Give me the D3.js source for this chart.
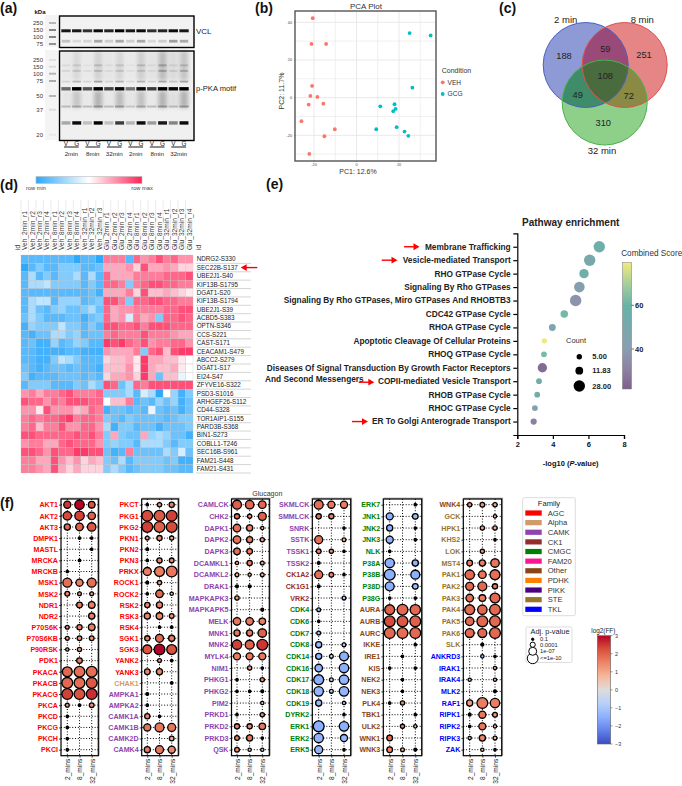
<!DOCTYPE html>
<html>
<head>
<meta charset="utf-8">
<script src="https://cdn.jsdelivr.net/npm/d3@7"></script>
<style>
  html, body { margin: 0; padding: 0; background: #fff; }
  svg { display: block; }
  text { font-family: "Liberation Sans", Arial, sans-serif; fill: #111; }
</style>
</head>
<body>
<div id="chart"></div>
<script>
// ---- panel a: western blots, band strength per lane (0-1)
var laneIds = ["v1","g1","v2","g2","v3","g3","v4","g4","v5","g5","v6","g6"];
var laneLetters = ["V","G","V","G","V","G","V","G","V","G","V","G"];
var timeLabels = ["2min","8min","32min","2min","8min","32min"];
var vclMarkers = [250,150,100,75];
var pkaMarkers = [250,150,100,75,50,37,20];
var vclMain = [.9,.9,.8,.95,.85,1,.9,.95,.8,.85,.95,.9];
var vclFaint = [.2,.1,.12,.3,.15,.3,.15,.3,.1,.15,.35,.3];
var pka62 = [.55,1,.65,1,.7,.95,.5,.95,.75,1,.95,1];
var pka28 = [.3,.95,.2,1,.2,.75,.25,.95,.35,.9,.45,.95];
var pka40 = [.2,.25,.2,.3,.2,.3,.15,.25,.2,.3,.2,.3];
var pka74 = [.1,.22,.1,.3,.1,.22,.08,.22,.1,.25,.15,.28];
var pka120 = [.08,.12,.06,.15,.06,.12,.05,.12,.06,.22,.1,.2];
var pka170 = [.06,.1,.04,.15,.05,.12,.03,.15,.06,.22,.08,.15];
var pkaSmearHigh = [.04,.1,.03,.13,.05,.11,.03,.14,.06,.22,.09,.18];
var pkaSmearLow = [.05,.18,.03,.26,.04,.22,.05,.2,.04,.26,.08,.26];

// ---- panel b: PCA
var vehX = [-20.6,-21.2,-14.3,-20.9,-21.7,-18.4,-15.6,-22.5,-25.9,-10.2,-15.1,-22.2];
var vehY = [42.2,28.5,28.5,6.2,0.9,0.35,-3.2,-3.7,-12.5,-16.8,-20.5,-29.9];
var gcgX = [25,34.9,26.3,17.9,11.2,18.4,17.3,9.3,18.9,22.6,24.4];
var gcgY = [34.3,33,5.3,-3.5,-4.6,-6,-7.2,-16.8,-15.7,-18,-20.3];

// ---- panel c: venn
var vennSets = ["2 min","8 min","32 min"];
var vennCounts = [188,59,251,108,49,72,310];

// ---- panel d: heatmap, 0 = row min, 10 = row max
var heatRows = ["NDRG2-S330","SEC22B-S137","UBE2J1-S40","KIF13B-S1795","DGAT1-S20","KIF13B-S1794","UBE2J1-S39","ACBD5-S383","OPTN-S346","CCS-S221","CAST-S171","CEACAM1-S479","ABCC2-S279","DGAT1-S17","EI24-S47","ZFYVE16-S322","PSD3-S1016","ARHGEF26-S112","CD44-S328","TOR1AIP1-S155","PARD3B-S368","BIN1-S273","COBLL1-T246","SEC16B-S961","FAM21-S448","FAM21-S431"];
var heatCols = ["Veh_2min_r1","Veh_2min_r2","Veh_2min_r3","Veh_2min_r4","Veh_8min_r1","Veh_8min_r2","Veh_8min_r3","Veh_8min_r4","Veh_32min_r1","Veh_32min_r2","Veh_32min_r3","Glu_2min_r1","Glu_2min_r2","Glu_2min_r3","Glu_2min_r4","Glu_8min_r1","Glu_8min_r2","Glu_8min_r3","Glu_8min_r4","Glu_32min_r1","Glu_32min_r2","Glu_32min_r3","Glu_32min_r4"];
var heatValues = [
  [1,1,1,1,1,1,1,0,1,1,0, 8,8,8,1,8.5,7.5,8,9,8,8.5,7.5,7.5],
  [0,1,2,1,1,2,2,2,1,1,1.5, 7,7,7,7.5,6,9,7,7,7.5,7,6,6],
  [1,3,1,2,1,2,2,3,1,3,1, 8.5,7,7,7,8,8,8,8,8.5,8.5,8.5,9],
  [1,3,3,3.5,2,2,2,2,1,2,1, 8.5,8.5,8,2,8,8.5,9,9,8.5,8.5,8,8],
  [1,1,1,1,1,1,1,1,1,1.5,.5, 7,7,7,8,6,9,6.5,6.5,7,6.5,6,5.5],
  [1,3,3.5,3.5,1,2.5,2.5,2.5,1,1.5,2, 9,9,8,2,8.5,8.5,9,9,8.5,8.5,8,8],
  [1,3,1.5,1,2,2.5,1.5,1.5,2,3,1.5, 8.5,7,7.5,7.5,8,8,8,8,8.5,8.5,9,9],
  [1.5,3,2,1,1,1,1.5,1.5,.5,1.5,2, 8.5,7,7.5,4,8,7,7.5,2,8.5,8.5,9,8.5],
  [.5,2.5,2,2,2,3.5,2,2,1,2,1, 9,9,8.5,8.5,9,8,9,9,9,8.5,8.5,8.5],
  [1,.5,1.5,1.5,3,3,2,2.5,1,1.5,1.5, 8,8.5,8,8,8,9,8,8,8,7.5,7,7],
  [1,1.5,.5,.5,2.5,1,1.5,2.5,2,1,1, 9.5,9,9.5,8.5,8,9,7.5,8,8,8.5,8.5,7.5],
  [1,1,.5,.5,.5,.5,1,1,.5,.5,.5, 7.5,7,7,7,8,2,8.5,9,6.5,9,9.5,9.5],
  [1,1,.5,.5,2,3.5,3,2,1,1,1, 6,6.5,6.5,7,5.5,9.5,7,7,6.5,6.5,5.5,5],
  [1.5,1,.5,1,1.5,1.5,1,1.5,1,1,.5, 6.5,6.5,6.5,7.5,5.5,9.5,7,6.5,6.5,7,5.5,5],
  [2,.5,1,1,1,1.5,1.5,1.5,1,1.5,1, 6,7,7,7.5,6,9.5,7,1.5,6.5,6.5,4.5,5],
  [1,2,2,2,1,1,1,2,1.5,3,2, 9,8.5,1.5,3,8.5,8,9,9,9,9,9,9],
  [7.5,8,7,8,8,8.5,9,8,8,8,8.5, 2,2,2,3,1,4,3,0,5,2.5,.5,2],
  [9,8.5,8.5,7.5,8.5,8,9,9,9,8.5,8.5, 5,6.5,6.5,8,1,1.5,1,2.5,1.5,2.5,.5,1.5],
  [7.5,7.5,5.5,9,7.5,7.5,7.5,6.5,7,8.5,8, .5,1.5,1.5,1,1.5,1,4.5,1.5,1,1.5,.5,1.5],
  [8,8.5,8,8.5,8.5,9,9.5,8,8.5,8.5,8, 2,1.5,1,2,1.5,1.5,1.5,1.5,1,1.5,2,2],
  [8,8.5,6.5,8,8,9,7.5,7.5,8.5,8.5,7.5, 3,.5,2,2,1,1.5,1.5,.5,1.5,1.5,1.5,2],
  [9,9,8.5,8.5,8.5,8.5,8.5,9,8.5,9,8, 2,7,2,1.5,1.5,7,2.5,3,2.5,1.5,1.5,.5],
  [7.5,8,8,7,7,8.5,9,8.5,8.5,8.5,7.5, 2,2.5,2,2,1,3,3,3,2,1,2,2],
  [9,9,8.5,7.5,9,8.5,8.5,9.5,9.5,9,9, 1.5,.5,1,8,1.5,1.5,1.5,1.5,3,2,4,1.5],
  [8,8,7,7,9,7.5,6.5,7.5,6,7,6.5, 2,1.5,3,1,2,2,2,2,1.5,2,.5,.5],
  [8,8,7.5,7,9,7,6,7,6,6,6, 2,3,2,1,1.5,2,2,2,1.5,1.5,1,1]
];

// ---- panel e: pathway enrichment
var pathways = ["Membrane Trafficking","Vesicle-mediated Transport","RHO GTPase Cycle","Signaling By Rho GTPases","Signaling By Rho GTPases, Miro GTPases And RHOBTB3","CDC42 GTPase Cycle","RHOA GTPase Cycle","Apoptotic Cleavage Of Cellular Proteins","RHOQ GTPase Cycle","Diseases Of Signal Transduction By Growth Factor Receptors","COPII-mediated Vesicle Transport","RHOB GTPase Cycle","RHOC GTPase Cycle","ER To Golgi Anterograde Transport"];
var pathwayLog = [6.61,6.07,5.75,5.49,5.28,4.64,3.97,3.52,3.5,3.41,3.22,3.12,2.99,2.92];
var pathwayCount = [28,28,18,24,28,11,9,5,6,18,6,6,6,7];
var pathwayScore = [56,50,55,42,37,62,46,79,63,25,55,52,44,30];
var countLegend = [5,11.83,28];
var scoreTicks = [60,40];
var arrowedPathways = ["Membrane Trafficking","Vesicle-mediated Transport","COPII-mediated Vesicle Transport","ER To Golgi Anterograde Transport"];

// ---- panel f: kinases. sig = -log10 adj p (0 = not drawn), ff = log2(FF)
var timePoints = ["2_mins","8_mins","32_mins"];

var kinases1 = ["AKT1","AKT2","AKT3","DMPK1","MASTL","MRCKA","MRCKB","MSK1","MSK2","NDR1","NDR2","P70S6K","P70S6KB","P90RSK","PDK1","PKACA","PKACB","PKACG","PKCA","PKCD","PKCG","PKCH","PKCI"];
var sig1 = [[6,8.5,5.5],[7.5,8.5,6.5],[5,6.5,7.5],[0,1,1],[0,0,1],[0,1,0],[1,0,0],[8,6,8],[3.5,2.5,2.5],[0,4.5,5.5],[0,0,5],[2.5,4,5.5],[2.5,3.5,3.5],[2,3,0],[0,4.5,0],[9,10,10],[10,10,10],[10,10,10],[2.5,1,3.5],[1,0,0],[1,0,0],[1,0,0],[1,0,0]];
var ff1 = [[2.5,3,2.2],[2.3,2.4,2],[1.9,2,2.1],[0,0,0],[0,0,0],[0,0,0],[0,0,0],[1.8,1.6,1.8],[1.5,1.2,1.2],[0,1.6,1.6],[0,0,1.6],[1.3,1.5,1.6],[1,1.3,1.3],[1,1.2,0],[0,1.6,0],[1.9,1.8,1.8],[1.9,1.8,2.1],[2.4,2.2,2.6],[1,0,1.3],[0,0,0],[0,0,0],[0,0,0],[0,0,0]];

var kinases2 = ["PKCT","PKG1","PKG2","PKN1","PKN2","PKN3","PRKX","ROCK1","ROCK2","RSK2","RSK3","RSK4","SGK1","SGK3","YANK2","YANK3","CHAK1","AMPKA1","AMPKA2","CAMK1A","CAMK1B","CAMK2D","CAMK4"];
var sig2 = [[1,3,4],[10,10,10],[10,10,10],[2.5,4,3],[1.5,0,0],[1,4,3.5],[7,9,10],[1.5,3,0],[1,6.5,2],[4,5,0],[5,5.5,3.5],[0,1,1],[4,7,5],[8,10,9],[0,2.5,1],[4.5,5,0],[0,0,1],[1.5,0,0],[1,0,0],[4,1,0],[6,8,7],[0,0,3.5],[5,7,6]];
var ff2 = [[0,1.2,1.6],[2.3,2.1,2.4],[2.4,2,2.3],[1.2,1.4,1],[.5,0,0],[0,1.5,1.4],[1.6,1.6,1.7],[0,1.1,0],[0,1.9,.5],[1.5,1.5,0],[1.5,1.5,1.3],[0,0,0],[1.6,1.9,1.6],[2.2,3,2.2],[0,1,0],[1.5,1.5,0],[0,0,0],[0,0,0],[0,0,0],[1.5,0,0],[1.7,1.7,1.7],[0,0,1],[1.6,1.7,1.5]];

var kinases3 = ["CAMLCK","CHK2","DAPK1","DAPK2","DAPK3","DCAMKL1","DCAMKL2","DRAK1","MAPKAPK3","MAPKAPK5","MELK","MNK1","MNK2","MYLK4","NIM1","PHKG1","PHKG2","PIM2","PRKD1","PRKD2","PRKD3","QSK"];
var sig3 = [[8,7.5,6.5],[4,3,7],[6.5,5,2],[6.5,5,3],[5.5,4.5,0],[2,4,2.5],[2.5,2,2.5],[1.5,1.5,0],[3,0,0],[0,0,1.5],[6.5,6.5,5.5],[5,5,7.5],[8.5,8,10],[6,6,6],[0,3,1],[1,0,3],[1,1,1.5],[0,0,2],[1,0,3],[4,4,5.5],[3.5,5,1],[3.5,2,2]];
var ff3 = [[2,1.9,1.9],[1.8,1.2,2],[1.8,1.5,.8],[1.8,1.6,1.2],[1.8,1.6,0],[.8,1.6,1],[.8,.8,.8],[0,0,0],[1.2,0,0],[0,0,0],[1.7,1.7,1.6],[1.7,1.7,2],[2.4,2,2.5],[1.6,1.7,1.7],[0,1.2,0],[0,0,1.4],[0,0,0],[0,0,.5],[0,0,1.4],[1.6,1.5,1.7],[1.5,1.7,0],[1.4,.5,.5]];

var kinases4 = ["SKMLCK","SMMLCK","SNRK","SSTK","TSSK1","TSSK2","CK1A2","CK1G1","VRK2","CDK4","CDK6","CDK7","CDK8","CDK14","CDK16","CDK17","CDK18","CDK19","DYRK2","ERK1","ERK2","ERK5"];
var sig4 = [[8,6,6],[4,4,0],[0,0,1],[7,0,2.5],[3.5,3,1],[1.5,0,0],[7,3.5,1],[1.5,0,0],[0,0,2.5],[2.5,0,0],[1,0,0],[2.5,0,0],[5,0,2.5],[5,2.5,8],[6.5,0,8.5],[9,2.5,8.5],[8.5,2.5,8.5],[5,0,2],[0,0,1],[10,0,8.5],[8.5,0,6],[7,0,1]];
var ff4 = [[1.8,1.7,1.6],[1.8,1.6,0],[0,0,0],[1.8,0,.8],[1.5,1.2,0],[0,0,0],[1.8,1.5,0],[0,0,0],[0,0,-1],[-1,0,0],[0,0,0],[-1,0,0],[-1.3,0,-.5],[-1.4,-.3,-1.5],[-1.4,0,-1.5],[-1.5,-.3,-1.4],[-1.4,-.3,-1.4],[-1.3,0,-.2],[0,0,0],[-1.5,0,-1.5],[-1.4,0,-1.3],[-1.4,0,0]];

var kinases5 = ["ERK7","JNK1","JNK2","JNK3","NLK","P38A","P38B","P38D","P38G","AURA","AURB","AURC","IKKE","IRE1","KIS","NEK2","NEK3","PLK4","TBK1","ULK2","WNK1","WNK3"];
var sig5 = [[0,0,1],[6,0,4.5],[5,0,1],[6,0,1],[1,0,0],[8.5,0,5],[10,0,8],[8,0,4.5],[1,0,1],[9,10,9.5],[10,10,10],[10,10,10],[0,0,1],[0,1,0],[1,0,1],[0,1,0],[0,1,0],[1,3,0],[0,0,1],[0,3,2],[4.5,0,0],[4.5,2.5,1.5]];
var ff5 = [[0,0,0],[-1.5,0,-1.3],[-1.5,0,0],[-1.5,0,0],[0,0,0],[-1.5,0,-1.4],[-1.5,0,-1.5],[-1.5,0,-1.2],[0,0,0],[2,1.9,1.9],[2.3,2.1,2],[1.9,1.8,1.9],[0,0,0],[0,0,0],[0,0,0],[0,0,0],[0,0,0],[0,1.4,0],[0,0,0],[0,1.5,.5],[1.9,0,0],[1.5,1,0]];

var kinases6 = ["WNK4","GCK","HPK1","KHS2","LOK","MST4","PAK1","PAK2","PAK3","PAK4","PAK5","PAK6","SLK","ANKRD3","IRAK1","IRAK4","MLK2","RAF1","RIPK1","RIPK2","RIPK3","ZAK"];
var sig6 = [[3,3.5,3],[0,0,2],[0,3,3],[0,0,1],[0,3,0],[4.5,5,7.5],[8.5,6.5,9],[7,8,4],[6.5,5.5,9],[9,8.5,10],[7.5,10,10],[8,8,10],[0,1.5,0],[0,2,1],[0,0,2],[2,0,2],[0,0,1.5],[5,10,8.5],[1.5,6,3.5],[1,6,2],[2,5,2.5],[0,2,1]];
var ff6 = [[1.3,1.3,1],[0,0,.6],[0,1,1],[0,0,0],[0,1.2,0],[1.6,1.6,1.7],[1.9,1.7,1.8],[1.9,1.9,1.7],[1.8,1.6,1.9],[1.9,1.9,1.9],[1.9,1.9,1.9],[1.9,1.9,1.9],[0,0,0],[0,-1,0],[0,0,.6],[.7,0,.7],[0,0,0],[1.2,1.6,1.6],[0,1.7,1.2],[0,1.7,.5],[.5,1.5,.8],[0,.5,0]];

var families = ["AGC","Alpha","CAMK","CK1","CMGC","FAM20","Other","PDHK","PIKK","STE","TKL"];
var familyColors = ["#ff0000","#d2996a","#8e44ad","#962b2b","#008000","#ff1493","#8b4513","#ff7f00","#4b0082","#9a7428","#0000ff"];
var alphaKinases = ["CHAK1"];
var camkKinases = ["AMPKA1","AMPKA2","CAMK1A","CAMK1B","CAMK2D","CAMK4"].concat(kinases3, ["SKMLCK","SMMLCK","SNRK","SSTK","TSSK1","TSSK2"]);
var ck1Kinases = ["CK1A2","CK1G1","VRK2"];
var cmgcKinases = ["CDK4","CDK6","CDK7","CDK8","CDK14","CDK16","CDK17","CDK18","CDK19","DYRK2","ERK1","ERK2","ERK5","ERK7","JNK1","JNK2","JNK3","NLK","P38A","P38B","P38D","P38G"];
var steKinases = ["GCK","HPK1","KHS2","LOK","MST4","PAK1","PAK2","PAK3","PAK4","PAK5","PAK6","SLK"];
var tklKinases = ["ANKRD3","IRAK1","IRAK4","MLK2","RAF1","RIPK1","RIPK2","RIPK3","ZAK"];
var otherKinases = ["AURA","AURB","AURC","IKKE","IRE1","KIS","NEK2","NEK3","PLK4","TBK1","ULK2","WNK1","WNK3","WNK4"];
var pvalueLabels = ["0.1","0.0001","1e-07","<=1e-10"];
var pvalueSig = [1,4,7,10];
var ffTicks = [3,2,1,0,-1,-2,-3];

// ---------------------------------------------------------------
var width = 682;
var height = 786;
var font = '"Liberation Sans", Arial, sans-serif';

var svg = d3.select("#chart").append("svg")
  .attr("width", width)
  .attr("height", height);

var defs = svg.append("defs");
var addBlur = function(id, amount) {
  defs.append("filter").attr("id", id)
    .attr("filterUnits", "userSpaceOnUse")
    .attr("x", 0).attr("y", 0).attr("width", 240).attr("height", 175)
    .append("feGaussianBlur").attr("stdDeviation", amount);
};
addBlur("blot-blur", 0.7);
addBlur("smear-blur", 2.2);

var text = function(parent, x, y, s, size, opts) {
  opts = opts || {};
  var t = parent.append("text")
    .attr("x", x).attr("y", y)
    .attr("dy", "0.35em")
    .attr("font-size", size)
    .attr("text-anchor", opts.anchor || "start")
    .attr("font-weight", opts.weight || "normal")
    .text(s);
  if (opts.fill) t.style("fill", opts.fill);
  if (opts.rotate) t.attr("transform", "rotate(" + opts.rotate + " " + x + " " + y + ")");
  return t;
};

// pointing left or right, used in panels d and e
var redArrow = function(x1, x2, y) {
  var dir = x2 > x1 ? 1 : -1;
  svg.append("line")
    .attr("x1", x1).attr("y1", y).attr("x2", x2 - dir*5).attr("y2", y)
    .attr("stroke", "#ff0000").attr("stroke-width", 1.4);
  svg.append("path")
    .attr("d", "M" + x2 + "," + y + " L" + (x2 - dir*6) + "," + (y - 3.4) + " L" + (x2 - dir*6) + "," + (y + 3.4) + " Z")
    .attr("fill", "#ff0000");
};

["(a)","(b)","(c)","(d)","(e)","(f)"].forEach(function(label, i) {
  var spots = [[0,8],[255,8],[499,8],[0,185],[266,184],[0,503]];
  text(svg, spots[i][0], spots[i][1], label, 14, {weight: "bold"});
});

// ---- panel a
var drawBlot = function() {
  var g = svg.append("g");
  var lane = d3.scalePoint().domain(laneIds).range([66, 184]);
  var vclY = d3.scaleLinear().domain([250,150,100,75]).range([23,30,37,44]);
  var pkaY = d3.scaleLinear().domain(pkaMarkers).range([60,66.7,73.7,81,96,109.7,134.7]);
  var laneW = 9.4;

  text(g, 40, 11.5, "kDa", 6, {anchor: "middle", weight: "bold"});
  vclMarkers.forEach(function(m) { text(g, 43, vclY(m), m, 6, {anchor: "end", fill: "#333"}); });
  pkaMarkers.forEach(function(m) { text(g, 43, pkaY(m), m, 6, {anchor: "end", fill: "#333"}); });

  // ladder strips
  g.append("rect").attr("x", 45).attr("y", 15).attr("width", 13).attr("height", 32).attr("fill", "#f4f4f4");
  g.append("rect").attr("x", 45).attr("y", 50).attr("width", 13).attr("height", 90).attr("fill", "#f4f4f4");
  var ladder = g.append("g").attr("filter", "url(#blot-blur)");
  vclMarkers.forEach(function(m, i) {
    ladder.append("rect").attr("x", 49).attr("y", vclY(m) - 1).attr("width", 7).attr("height", 2)
      .attr("fill", "#000").attr("fill-opacity", [.25,.45,.45,.4][i]);
  });
  pkaMarkers.forEach(function(m, i) {
    ladder.append("rect").attr("x", 49).attr("y", pkaY(m) - 1).attr("width", 7).attr("height", 2)
      .attr("fill", "#000").attr("fill-opacity", [.08,.1,.25,.3,.25,.1,.05][i]);
  });

  g.append("rect").attr("x", 59.5).attr("y", 16).attr("width", 134.5).attr("height", 31.5).attr("fill", "#f2f2f2");
  g.append("rect").attr("x", 59.5).attr("y", 51).attr("width", 134.5).attr("height", 89.5).attr("fill", "#f0f0f0");

  var smears = g.append("g").attr("filter", "url(#smear-blur)");
  var bands = g.append("g").attr("filter", "url(#blot-blur)");
  var addBand = function(layer, yPos, h, values, w) {
    layer.selectAll(null).data(values).enter().append("rect")
      .attr("x", function(d, i) { return lane(laneIds[i]) - w/2; })
      .attr("y", yPos - h/2)
      .attr("width", w)
      .attr("height", h)
      .attr("fill", "#000")
      .attr("fill-opacity", function(d) { return d; });
  };
  addBand(smears, pkaY(165), 30, pkaSmearHigh, laneW - 1);
  addBand(smears, pkaY(47), 17, pkaSmearLow, laneW - 1);
  addBand(bands, vclY(150) + 0.8, 3, vclMain, laneW);
  addBand(bands, vclY(85), 2.8, vclFaint, laneW - 1);
  addBand(bands, pkaY(62), 3.4, pka62, laneW);
  addBand(bands, pkaY(170), 2, pka170, laneW - 1);
  addBand(bands, pkaY(120), 2, pka120, laneW - 1);
  addBand(bands, pkaY(74), 1.8, pka74, laneW - 1);
  addBand(bands, pkaY(40), 2, pka40, laneW);
  addBand(bands, pkaY(28), 3.4, pka28, laneW - 0.5);

  g.append("rect").attr("x", 59.5).attr("y", 16).attr("width", 134.5).attr("height", 31.5)
    .attr("fill", "none").attr("stroke", "#000").attr("stroke-width", 1.4);
  g.append("rect").attr("x", 59.5).attr("y", 51).attr("width", 134.5).attr("height", 89.5)
    .attr("fill", "none").attr("stroke", "#000").attr("stroke-width", 1.4);

  laneLetters.forEach(function(l, i) {
    text(g, lane(laneIds[i]), 143.8, l, 6.4, {anchor: "middle", fill: "#222"});
  });
  timeLabels.forEach(function(l, i) {
    var x1 = lane(laneIds[i*2]), x2 = lane(laneIds[i*2 + 1]);
    g.append("line").attr("x1", x1 - 2).attr("x2", x2 + 2).attr("y1", 147).attr("y2", 147)
      .attr("stroke", "#000").attr("stroke-width", 0.9);
    text(g, (x1 + x2)/2, 153.4, l, 6.2, {anchor: "middle", fill: "#222"});
  });
  text(g, 196, 30.7, "VCL", 8, {fill: "#222"});
  text(g, 196, 88.7, "p-PKA  motif", 7.6, {fill: "#222"});
};
drawBlot();

// ---- panel b
var drawPca = function() {
  var g = svg.append("g");
  var x = d3.scaleLinear().domain([-20, 20]).range([314, 399]);
  var y = d3.scaleLinear().domain([-20, 40]).range([135.3, 22.3]);
  var left = 295, right = 436, top = 11, bottom = 161;

  g.append("rect").attr("x", left).attr("y", top).attr("width", right - left).attr("height", bottom - top).attr("fill", "#fff");
  d3.range(-20, 31, 10).forEach(function(v) {
    g.append("line").attr("x1", x(v)).attr("x2", x(v)).attr("y1", top).attr("y2", bottom)
      .attr("stroke", "#e6e6e6").attr("stroke-width", v % 20 === 0 ? 0.9 : 0.6);
  });
  d3.range(-30, 41, 10).forEach(function(v) {
    g.append("line").attr("x1", left).attr("x2", right).attr("y1", y(v)).attr("y2", y(v))
      .attr("stroke", "#e6e6e6").attr("stroke-width", v % 20 === 0 ? 0.9 : 0.6);
  });
  g.selectAll(".veh").data(vehX).enter().append("circle").attr("class", "veh")
    .attr("cx", function(d) { return x(d); })
    .attr("cy", function(d, i) { return y(vehY[i]); })
    .attr("r", 1.9).attr("fill", "#f8766d");
  g.selectAll(".gcg").data(gcgX).enter().append("circle").attr("class", "gcg")
    .attr("cx", function(d) { return x(d); })
    .attr("cy", function(d, i) { return y(gcgY[i]); })
    .attr("r", 1.9).attr("fill", "#00bfc4");
  g.append("rect").attr("x", left).attr("y", top).attr("width", right - left).attr("height", bottom - top)
    .attr("fill", "none").attr("stroke", "#555").attr("stroke-width", 1.4);

  [-20, 0, 20].forEach(function(v) {
    text(g, x(v), 165, v, 3.8, {anchor: "middle", fill: "#444"});
    g.append("line").attr("x1", x(v)).attr("x2", x(v)).attr("y1", bottom).attr("y2", bottom + 1).attr("stroke", "#444").attr("stroke-width", 0.5);
  });
  [-20, 0, 20, 40].forEach(function(v) {
    text(g, 292, y(v), v, 3.8, {anchor: "end", fill: "#444"});
    g.append("line").attr("x1", left - 1).attr("x2", left).attr("y1", y(v)).attr("y2", y(v)).attr("stroke", "#444").attr("stroke-width", 0.5);
  });
  text(g, 366, 6, "PCA Plot", 8, {anchor: "middle", fill: "#333"});
  text(g, 358, 171.7, "PC1: 12.6%", 7, {anchor: "middle", fill: "#333"});
  text(g, 281.7, 91, "PC2: 11.7%", 7, {anchor: "middle", rotate: -90, fill: "#333"});
  text(g, 441.7, 71, "Condition", 7, {fill: "#333"});
  [["VEH", "#f8766d", 82.3], ["GCG", "#00bfc4", 94]].forEach(function(d) {
    g.append("circle").attr("cx", 442.7).attr("cy", d[2]).attr("r", 1.9).attr("fill", d[1]);
    text(g, 447.5, d[2], d[0], 6.6, {fill: "#333"});
  });
};
drawPca();

// ---- panel c
var drawVenn = function() {
  var g = svg.append("g");
  var circles = [[585.7, 65, "#8e9ad6", "#4a5fc0"], [624.7, 65, "#e58585", "#d9534f"], [604.7, 102.5, "#8ed08a", "#4cae4c"]];
  var r = 42.5;
  circles.forEach(function(c, i) {
    defs.append("clipPath").attr("id", "venn-clip-" + i)
      .append("circle").attr("cx", c[0]).attr("cy", c[1]).attr("r", r);
  });
  var circle = function(parent, c, fill) {
    return parent.append("circle").attr("cx", c[0]).attr("cy", c[1]).attr("r", r).attr("fill", fill);
  };
  circles.forEach(function(c) { circle(g, c, c[2]); });
  // overlaps, each clipped to the other set
  circle(g, circles[0], "#9a4a78").attr("clip-path", "url(#venn-clip-1)");
  circle(g, circles[0], "#3f8c6a").attr("clip-path", "url(#venn-clip-2)");
  circle(g, circles[1], "#8a8a45").attr("clip-path", "url(#venn-clip-2)");
  circle(g.append("g").attr("clip-path", "url(#venn-clip-2)"), circles[0], "#4a6b3e").attr("clip-path", "url(#venn-clip-1)");
  circles.forEach(function(c) {
    g.append("circle").attr("cx", c[0]).attr("cy", c[1]).attr("r", r)
      .attr("fill", "none").attr("stroke", c[3]).attr("stroke-width", 1);
  });
  var countSpots = [[564,55.7],[605.3,48.3],[644,55],[605.3,76],[577.7,95],[628.7,96],[603.3,122.7]];
  vennCounts.forEach(function(c, i) {
    text(svg, countSpots[i][0], countSpots[i][1], c, 9.3, {anchor: "middle", fill: "#222"});
  });
  var setSpots = [[565.7,19.3],[642.3,19.3],[602,151]];
  vennSets.forEach(function(s, i) {
    text(svg, setSpots[i][0], setSpots[i][1], s, 9.5, {anchor: "middle", fill: "#222"});
  });
};
drawVenn();

// ---- panel d
var drawHeatmap = function() {
  var g = svg.append("g");
  var x = d3.scaleBand().domain(heatCols).range([21, 193]);
  var y = d3.scaleBand().domain(heatRows).range([255, 473]);
  var color = d3.scaleLinear().domain([0, 5, 10]).range(["#2ea8fb", "#ffffff", "#ff2458"]);

  // colorbar
  var grad = defs.append("linearGradient").attr("id", "heat-grad");
  [0, 2.5, 5, 7.5, 10].forEach(function(v) {
    grad.append("stop").attr("offset", (v*10) + "%").attr("stop-color", color(v));
  });
  g.append("rect").attr("x", 36).attr("y", 176.5).attr("width", 106).attr("height", 7)
    .attr("fill", "url(#heat-grad)").attr("stroke", "#bbb").attr("stroke-width", 0.6);
  text(g, 36, 188, "row min", 5.7, {anchor: "middle", fill: "#444"});
  text(g, 142, 188, "row max", 5.7, {anchor: "middle", fill: "#444"});

  heatCols.forEach(function(c) {
    var cx = x(c) + x.bandwidth()/2;
    text(g, cx, 250, c, 6.6, {anchor: "start", rotate: -90, fill: "#333"});
    g.append("line").attr("x1", x(c)).attr("x2", x(c)).attr("y1", 200).attr("y2", 252)
      .attr("stroke", "#ccc").attr("stroke-width", 0.4);
  });
  text(g, 18, 250, "id", 6.5, {anchor: "start", rotate: -90, fill: "#333"});
  text(g, 199, 250, "id", 6.5, {anchor: "start", rotate: -90, fill: "#333"});

  heatRows.forEach(function(name, r) {
    g.selectAll(null).data(heatValues[r]).enter().append("rect")
      .attr("x", function(d, i) { return x(heatCols[i]); })
      .attr("y", y(name))
      .attr("width", x.bandwidth())
      .attr("height", y.bandwidth())
      .attr("fill", function(d) { return color(d); })
      .attr("stroke", "#bdbdbd")
      .attr("stroke-width", 0.3);
    text(g, 196.7, y(name) + y.bandwidth()/2, name, 6.3, {fill: "#222"});
    g.append("line").attr("x1", 196).attr("x2", 251)
      .attr("y1", y(name) + y.bandwidth()).attr("y2", y(name) + y.bandwidth())
      .attr("stroke", "#aaa").attr("stroke-width", 0.5);
  });
  redArrow(257.3, 240.7, y("SEC22B-S137") + y.bandwidth()/2);
};
drawHeatmap();

// ---- panel e
var drawPathways = function() {
  var g = svg.append("g");
  var x = d3.scaleLinear().domain([2, 8]).range([517.3, 624]);
  var y = d3.scalePoint().domain(pathways).range([233.3, 435]).padding(1);
  var r = d3.scalePow().exponent(0.5).domain([5, 28]).range([2.7, 5.7]);
  var color = d3.scaleLinear()
    .domain([21.7, 30, 40, 50, 60, 70, 79.5])
    .range(["#7d5f8d", "#8d7f9f", "#8a9db0", "#78a8ac", "#67b3a7", "#a7cf9a", "#f3ea7a"]);

  var xAxis = g.append("g").attr("transform", "translate(0,435)")
    .call(d3.axisBottom(x).tickValues([2,4,6,8]).tickFormat(d3.format("d")).tickSize(4).tickPadding(3));
  var yAxis = g.append("g").attr("transform", "translate(517.3,0)")
    .call(d3.axisLeft(y).tickSize(4).tickFormat(""));
  [xAxis, yAxis].forEach(function(a) {
    a.selectAll("path,line").attr("stroke", "#000").attr("stroke-width", 1.2);
    a.selectAll("text").attr("font-size", 7.5).attr("font-weight", "bold").attr("font-family", font);
  });
  g.selectAll(".path-dot").data(pathwayLog).enter().append("circle").attr("class", "path-dot")
    .attr("cx", function(d) { return x(d); })
    .attr("cy", function(d, i) { return y(pathways[i]); })
    .attr("r", function(d, i) { return r(pathwayCount[i]); })
    .attr("fill", function(d, i) { return color(pathwayScore[i]); });

  pathways.forEach(function(p) {
    text(g, 510.7, y(p), p, 8.3, {anchor: "end", weight: "bold", fill: "#222"});
  });
  text(g, 265, 379, "And Second Messengers", 8.3, {weight: "bold", fill: "#222"});

  var arrowEnds = {};
  arrowEnds[arrowedPathways[0]] = [404, 419.5];
  arrowEnds[arrowedPathways[1]] = [381.7, 397.5];
  arrowEnds[arrowedPathways[2]] = [358.7, 374.3];
  arrowEnds[arrowedPathways[3]] = [352, 368];
  arrowedPathways.forEach(function(p) {
    redArrow(arrowEnds[p][0], arrowEnds[p][1], y(p) + (p === arrowedPathways[2] ? 1 : 0));
  });

  text(g, 570.7, 222, "Pathway enrichment", 10, {anchor: "middle", weight: "bold", fill: "#222"});
  g.append("text").attr("x", 570.7).attr("y", 463.3).attr("dy", "0.35em")
    .attr("text-anchor", "middle").attr("font-size", 7.5).attr("font-weight", "bold")
    .html('-log10 (<tspan font-style="italic">P</tspan>-value)');

  text(g, 576, 340, "Count", 7.5, {anchor: "middle", fill: "#333"});
  countLegend.forEach(function(c, i) {
    var cy = [356.7, 370.7, 386][i];
    g.append("circle").attr("cx", 579.3).attr("cy", cy).attr("r", r(c)).attr("fill", "#000");
    text(g, 592.3, cy, c.toFixed(2), 7.5, {weight: "bold", fill: "#222"});
  });

  var grad = defs.append("linearGradient").attr("id", "score-grad")
    .attr("x1", 0).attr("x2", 0).attr("y1", 1).attr("y2", 0);
  color.domain().forEach(function(v) {
    grad.append("stop").attr("offset", ((v - 21.7)/(79.5 - 21.7)*100) + "%").attr("stop-color", color(v));
  });
  var scoreY = d3.scaleLinear().domain([40, 60]).range([349, 305.3]);
  g.append("rect").attr("x", 622.5).attr("y", scoreY(79.5)).attr("width", 9)
    .attr("height", scoreY(21.7) - scoreY(79.5))
    .attr("fill", "url(#score-grad)").attr("stroke", "#777").attr("stroke-width", 0.5);
  scoreTicks.forEach(function(t) {
    g.append("line").attr("x1", 631.5).attr("x2", 634).attr("y1", scoreY(t)).attr("y2", scoreY(t))
      .attr("stroke", "#333").attr("stroke-width", 0.7);
    text(g, 635, scoreY(t), t, 7.5, {weight: "bold", fill: "#222"});
  });
  text(g, 651.7, 253.3, "Combined Score", 8.2, {anchor: "middle", fill: "#333"});
};
drawPathways();

// ---- panel f
var familyOf = function(name) {
  if (alphaKinases.indexOf(name) >= 0) return "Alpha";
  if (camkKinases.indexOf(name) >= 0) return "CAMK";
  if (ck1Kinases.indexOf(name) >= 0) return "CK1";
  if (cmgcKinases.indexOf(name) >= 0) return "CMGC";
  if (steKinases.indexOf(name) >= 0) return "STE";
  if (tklKinases.indexOf(name) >= 0) return "TKL";
  if (otherKinases.indexOf(name) >= 0) return "Other";
  return "AGC";
};
var familyColor = d3.scaleOrdinal().domain(families).range(familyColors);
var ffColor = d3.scaleLinear()
  .domain([-3, -2.25, -1.5, -0.75, 0, 0.75, 1.5, 2.25, 3])
  .range(["#3b4cc0", "#6282ea", "#8db0fe", "#b8d0f9", "#dddcdc", "#f7b89c", "#ee8468", "#d8503c", "#b40426"]);
var sigRadius = d3.scaleLinear().domain([1, 10]).range([1.2, 5.4]);

var drawDotPanel = function(names, sig, ff, left, right, first, last) {
  var g = svg.append("g");
  var top = 499, bottom = 755.7;
  var x = d3.scalePoint().domain(timePoints).range([first, last]);
  var y = d3.scalePoint().domain(names).range([504.7, 749.7]);

  // grey halo behind the frame
  g.append("rect").attr("x", left + 0.8).attr("y", top - 0.8).attr("width", right - left).attr("height", bottom - top)
    .attr("fill", "none").attr("stroke", "#aaa").attr("stroke-width", 1.2);
  g.append("rect").attr("x", left).attr("y", top).attr("width", right - left).attr("height", bottom - top)
    .attr("fill", "#fff");

  names.forEach(function(n) {
    g.append("line").attr("x1", left).attr("x2", right).attr("y1", y(n)).attr("y2", y(n))
      .attr("stroke", "#000").attr("stroke-width", 1).attr("stroke-dasharray", "1 1.8");
  });
  timePoints.forEach(function(t) {
    g.append("line").attr("x1", x(t)).attr("x2", x(t)).attr("y1", top).attr("y2", bottom)
      .attr("stroke", "#000").attr("stroke-width", 1).attr("stroke-dasharray", "1 1.8");
  });
  names.forEach(function(n, r) {
    timePoints.forEach(function(t, c) {
      if (sig[r][c] <= 0) return;
      g.append("circle")
        .attr("cx", x(t))
        .attr("cy", y(n))
        .attr("r", sigRadius(sig[r][c]))
        .attr("fill", sig[r][c] < 1.6 ? "#000" : ffColor(ff[r][c]))
        .attr("stroke", "#000")
        .attr("stroke-width", 1.3);
    });
  });

  g.append("rect").attr("x", left).attr("y", top).attr("width", right - left).attr("height", bottom - top)
    .attr("fill", "none").attr("stroke", "#000").attr("stroke-width", 1.2);

  var yAxis = g.append("g").attr("transform", "translate(" + left + ",0)")
    .call(d3.axisLeft(y).tickSize(2).tickPadding(1));
  yAxis.select(".domain").remove();
  yAxis.selectAll("line").attr("stroke", "#000").attr("stroke-width", 0.7);
  yAxis.selectAll("text")
    .attr("font-size", 7.1).attr("font-weight", "bold").attr("font-family", font)
    .style("fill", function(d) { return familyColor(familyOf(d)); });

  var xAxis = g.append("g").attr("transform", "translate(0," + bottom + ")")
    .call(d3.axisBottom(x).tickSize(2).tickPadding(1));
  xAxis.select(".domain").remove();
  xAxis.selectAll("line").attr("stroke", "#000").attr("stroke-width", 0.7);
  xAxis.selectAll("text")
    .attr("font-size", 6.6).attr("font-family", font)
    .attr("text-anchor", "end").attr("dy", "0.35em").attr("x", -3).attr("y", 0)
    .attr("transform", "rotate(-90)");
};

drawDotPanel(kinases1, sig1, ff1, 61, 98.3, 67.3, 91.7);
drawDotPanel(kinases2, sig2, ff2, 141.7, 178.3, 147.3, 171.7);
drawDotPanel(kinases3, sig3, ff3, 231.5, 269.3, 237, 262.3);
drawDotPanel(kinases4, sig4, ff4, 312.3, 350.7, 318.7, 344);
drawDotPanel(kinases5, sig5, ff5, 383.3, 421.7, 389.7, 415.3);
drawDotPanel(kinases6, sig6, ff6, 463.3, 501.7, 469.7, 495);

text(svg, 267.3, 493.3, "Glucagon", 7, {anchor: "middle", fill: "#333"});

// family legend
var drawFamilyLegend = function() {
  var g = svg.append("g");
  g.append("rect").attr("x", 522.7).attr("y", 497.7).attr("width", 52.6).attr("height", 118).attr("rx", 1.5)
    .attr("fill", "#fff").attr("stroke", "#ddd").attr("stroke-width", 1);
  text(g, 549, 503.5, "Family", 7.6, {anchor: "middle", fill: "#222"});
  var y = d3.scalePoint().domain(families).range([513, 609.3]);
  families.forEach(function(f, i) {
    g.append("rect").attr("x", 525.3).attr("y", y(f) - 2.6).attr("width", 16.4).attr("height", 5.2)
      .attr("fill", familyColors[i]);
    text(g, 547.7, y(f), f, 7.6, {fill: "#333"});
  });
};
drawFamilyLegend();

var drawPvalueLegend = function() {
  var g = svg.append("g");
  g.append("rect").attr("x", 526).attr("y", 627).attr("width", 46).attr("height", 35.5).attr("rx", 1.5)
    .attr("fill", "#fff").attr("stroke", "#ddd").attr("stroke-width", 1);
  text(g, 550, 631.7, "Adj. p-value", 7.4, {anchor: "middle", fill: "#222"});
  var spots = [639.3, 644.7, 651.3, 658.3];
  pvalueSig.slice().reverse().forEach(function(s, i) {
    var k = pvalueSig.length - 1 - i;
    g.append("circle").attr("cx", 532.7).attr("cy", spots[k]).attr("r", sigRadius(s))
      .attr("fill", k === 0 ? "#000" : "#fff").attr("stroke", "#000").attr("stroke-width", 1);
  });
  pvalueLabels.forEach(function(l, i) {
    text(g, 540, spots[i], l, 5.8, {fill: "#222"});
  });
};
drawPvalueLegend();

var drawFfBar = function() {
  var g = svg.append("g");
  var y = d3.scaleLinear().domain([3, -3]).range([635.7, 744]);
  var grad = defs.append("linearGradient").attr("id", "ff-grad")
    .attr("x1", 0).attr("x2", 0).attr("y1", 1).attr("y2", 0);
  ffColor.domain().forEach(function(v) {
    grad.append("stop").attr("offset", ((v + 3)/6*100) + "%").attr("stop-color", ffColor(v));
  });
  g.append("rect").attr("x", 597.3).attr("y", y(3)).attr("width", 13.4).attr("height", y(-3) - y(3))
    .attr("fill", "url(#ff-grad)").attr("stroke", "#666").attr("stroke-width", 0.6);
  ffTicks.forEach(function(t) {
    g.append("line").attr("x1", 610.7).attr("x2", 612.5).attr("y1", y(t)).attr("y2", y(t))
      .attr("stroke", "#333").attr("stroke-width", 0.5);
    text(g, 615, y(t), t < 0 ? "\u2212" + Math.abs(t) : t, 5.4, {fill: "#333"});
  });
  text(g, 603.3, 631, "log2(FF)", 6.4, {anchor: "middle", fill: "#222"});
};
drawFfBar();
</script>
</body>
</html>
